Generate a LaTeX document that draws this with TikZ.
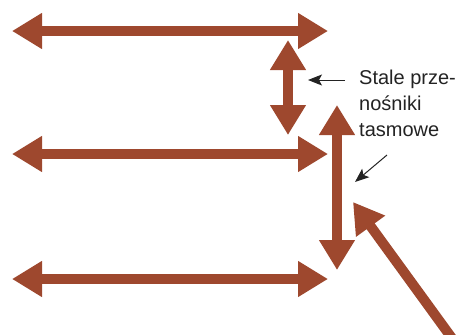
\documentclass[tikz,border=0pt]{standalone}
\usepackage{fontspec}
\setmainfont{Liberation Sans}
\usetikzlibrary{arrows.meta, positioning}
\definecolor{rust}{RGB}{158,72,46}
\definecolor{ink}{RGB}{35,35,35}

\begin{document}
\begin{tikzpicture}[x=1pt, y=-1pt,
  conveyor/.style={draw=rust, line width=10pt,
                   {Triangle[length=30pt, width=34pt]}-{Triangle[length=30pt, width=34pt]}},
  feeder/.style={draw=rust, line width=10pt, -{Triangle[length=30pt, width=34pt]}},
  pointer/.style={draw=ink, line width=1pt, -{Stealth[length=14pt, width=11pt, inset=3pt]}},
  lbl/.style={font=\fontsize{20}{26}\selectfont, text=ink, align=left, inner sep=0pt}
]
  \useasboundingbox (0,0) rectangle (459,335);
  \clip (0,0) rectangle (459,335);

  % fixed belts, three levels
  \coordinate (l1) at (12,31);   \coordinate (r1) at (328,31);
  \coordinate (l2) at (12,154);  \coordinate (r2) at (328,154);
  \coordinate (l3) at (12,279);  \coordinate (r3) at (328,279);
  \draw[conveyor] (l1) -- (r1);
  \draw[conveyor] (l2) -- (r2);
  \draw[conveyor] (l3) -- (r3);

  % vertical links between levels
  \coordinate (s1) at (288,40);  \coordinate (s2) at (288,135);
  \coordinate (v1) at (337,105); \coordinate (v2) at (337,270);
  \draw[conveyor] (s1) -- (s2);
  \draw[conveyor] (v1) -- (v2);

  % incoming feed
  \coordinate (f0) at (462,352); \coordinate (f1) at (353,202);
  \draw[feeder] (f0) -- (f1);

  % label
  \node[lbl, anchor=north west] (note) at (359,70) {Stale prze-\\nośniki\\tasmowe};
  \coordinate (p1) at (345,80);  \coordinate (q1) at (308,80);
  \coordinate (p2) at (387,155); \coordinate (q2) at (355,182);
  \draw[pointer] (p1) -- (q1);
  \draw[pointer] (p2) -- (q2);
\end{tikzpicture}
\end{document}
